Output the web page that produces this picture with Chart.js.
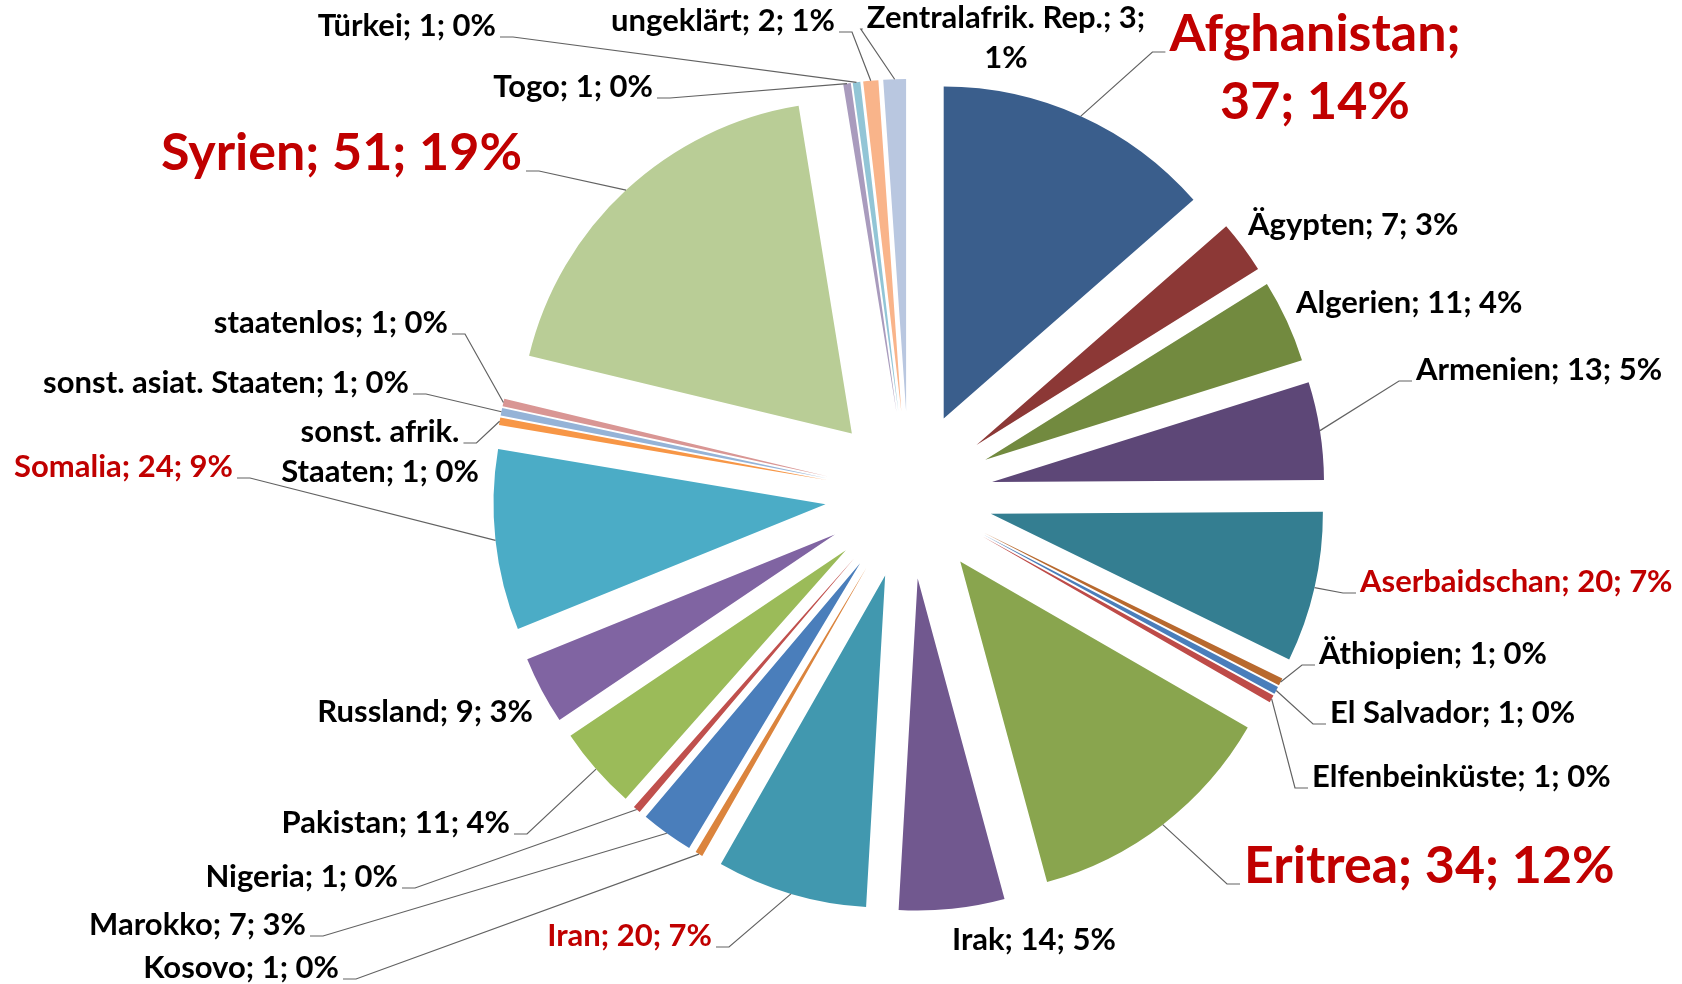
<!DOCTYPE html>
<html>
<head>
<meta charset="utf-8">
<script src="https://cdn.jsdelivr.net/npm/chart.js@4.4.1/dist/chart.umd.min.js"></script>
<style>
  html, body { margin: 0; padding: 0; background: #fff; }
  canvas { display: block; }
</style>
</head>
<body>
<canvas id="torte" width="1682" height="984"></canvas>
<script>
// Herkunftsländer, im Uhrzeigersinn ab 12 Uhr
const categories = [
  "Afghanistan", "Ägypten", "Algerien", "Armenien", "Aserbaidschan",
  "Äthiopien", "El Salvador", "Elfenbeinküste", "Eritrea", "Irak",
  "Iran", "Kosovo", "Marokko", "Nigeria", "Pakistan", "Russland",
  "Somalia", "sonst. afrik. Staaten", "sonst. asiat. Staaten", "staatenlos",
  "Syrien", "Togo", "Türkei", "ungeklärt", "Zentralafrik. Rep.",
];
const values = [37, 7, 11, 13, 20, 1, 1, 1, 34, 14, 20, 1, 7, 1, 11, 9, 24, 1, 1, 1, 51, 1, 1, 2, 3];

const sliceColors = [
  "#3a5e8c", "#8c3836", "#728a3f", "#5d4777", "#347e91",
  "#b8692e", "#4a7ebb", "#be4b48", "#89a54e", "#71588f",
  "#4198af", "#db843d", "#4a7ebb", "#c0504d", "#9bbb59", "#8064a2",
  "#4bacc6", "#f79646", "#95b3d7", "#d99694",
  "#b9cd96", "#a99bbd", "#92c5d6", "#f9b48a", "#b9c7e0",
];

const RED = "#c00000";
const FONT = "Lato";
const SIZE_N = 31;   // normale Beschriftung
const SIZE_B = 52;   // hervorgehobene Länder
const EXPLODE = 84;  // Explosion der Segmente in px

// Lage der Beschriftungen: x, Grundlinie der ersten Zeile, Ausrichtung
const labelLayout = [
  { x: 1315, y: 51,  align: "center", big: true,  red: true,  line: true, side: "left", wrap: 320 },
  { x: 1248, y: 235, align: "left" },
  { x: 1296, y: 313, align: "left" },
  { x: 1416, y: 380, align: "left", line: true },
  { x: 1360, y: 592, align: "left", red: true, line: true },
  { x: 1319, y: 664, align: "left", line: true },
  { x: 1330, y: 723, align: "left", line: true },
  { x: 1312, y: 787, align: "left", line: true },
  { x: 1244, y: 883, align: "left", big: true, red: true, line: true },
  { x: 952,  y: 950, align: "left" },
  { x: 712,  y: 946, align: "right", red: true, line: true },
  { x: 339,  y: 978, align: "right", line: true },
  { x: 306,  y: 935, align: "right", line: true },
  { x: 398,  y: 887, align: "right", line: true },
  { x: 510,  y: 833, align: "right", line: true },
  { x: 533,  y: 722, align: "right" },
  { x: 233,  y: 477, align: "right", red: true, line: true },
  { x: 380,  y: 442, align: "center", line: true, side: "right", wrap: 230 },
  { x: 409,  y: 393, align: "right", line: true },
  { x: 448,  y: 333, align: "right", line: true },
  { x: 522,  y: 170, align: "right", big: true, red: true, line: true },
  { x: 653,  y: 97,  align: "right", line: true },
  { x: 496,  y: 36,  align: "right", line: true },
  { x: 835,  y: 31,  align: "right", line: true },
  { x: 1006, y: 28,  align: "center", line: true, side: "left", wrap: 300, tick: 2 },
];

const total = values.reduce((a, b) => a + b, 0);

function wrapText(ctx, text, maxWidth) {
  if (!maxWidth) return [text];
  const words = text.split(" ");
  const lines = [];
  let cur = "";
  words.forEach((w) => {
    const test = cur ? cur + " " + w : w;
    if (cur && ctx.measureText(test).width > maxWidth) {
      lines.push(cur);
      cur = w;
    } else {
      cur = test;
    }
  });
  if (cur) lines.push(cur);
  return lines;
}

// Segmente wie in Excel nach außen schieben (ohne Radiusänderung)
const explodePlugin = {
  id: "explode",
  beforeDatasetsDraw(chart) {
    const a = chart.chartArea;
    const cx = (a.left + a.right) / 2;
    const cy = (a.top + a.bottom) / 2;
    chart.getDatasetMeta(0).data.forEach((arc) => {
      const mid = (arc.startAngle + arc.endAngle) / 2;
      arc.x = cx + Math.cos(mid) * EXPLODE;
      arc.y = cy + Math.sin(mid) * EXPLODE;
    });
  },
};

// Datenbeschriftungen mit Führungslinien
const labelPlugin = {
  id: "labels",
  afterDatasetsDraw(chart) {
    const ctx = chart.ctx;
    const arcs = chart.getDatasetMeta(0).data;
    ctx.save();
    ctx.textBaseline = "alphabetic";
    arcs.forEach((arc, i) => {
      const lay = labelLayout[i];
      const size = lay.big ? SIZE_B : SIZE_N;
      ctx.font = "bold " + size + "px " + FONT;
      const text = categories[i] + "; " + values[i] + "; " + Math.round((values[i] / total) * 100) + "%";
      const lines = wrapText(ctx, text, lay.wrap);
      const lh = size * 1.3;
      const w0 = ctx.measureText(lines[0]).width;

      if (lay.line) {
        const mid = (arc.startAngle + arc.endAngle) / 2;
        const px = arc.x + Math.cos(mid) * arc.outerRadius;
        const py = arc.y + Math.sin(mid) * arc.outerRadius;
        let left;
        if (lay.align === "left") left = lay.x;
        else if (lay.align === "right") left = lay.x - w0;
        else left = lay.x - w0 / 2;
        const right = left + w0;
        const side = lay.side || (lay.align === "left" ? "left" : "right");
        const tick = lay.tick !== undefined ? lay.tick : 13;
        const gap = 4;
        const ly = lay.y + 1;
        let x1, x2;
        if (side === "left") { x2 = left - gap; x1 = x2 - tick; }
        else { x2 = right + gap; x1 = x2 + tick; }
        ctx.strokeStyle = "#626262";
        ctx.lineWidth = 1.2;
        ctx.beginPath();
        ctx.moveTo(px, py);
        ctx.lineTo(x1, ly);
        ctx.lineTo(x2, ly);
        ctx.stroke();
      }

      ctx.fillStyle = lay.red ? RED : "#000";
      ctx.textAlign = lay.align;
      lines.forEach((ln, k) => {
        ctx.fillText(ln, lay.x, lay.y + k * lh);
      });
    });
    ctx.restore();
  },
};

const ctx = document.getElementById("torte").getContext("2d");
new Chart(ctx, {
  type: "pie",
  data: {
    labels: categories,
    datasets: [
      {
        data: values,
        backgroundColor: sliceColors,
        borderWidth: 0,
      },
    ],
  },
  options: {
    responsive: false,
    animation: false,
    events: [],
    radius: 332,
    layout: { padding: { left: 136, right: 0, top: 6, bottom: 0 } },
    plugins: {
      legend: { display: false },
      tooltip: { enabled: false },
    },
  },
  plugins: [explodePlugin, labelPlugin],
});
</script>
</body>
</html>
